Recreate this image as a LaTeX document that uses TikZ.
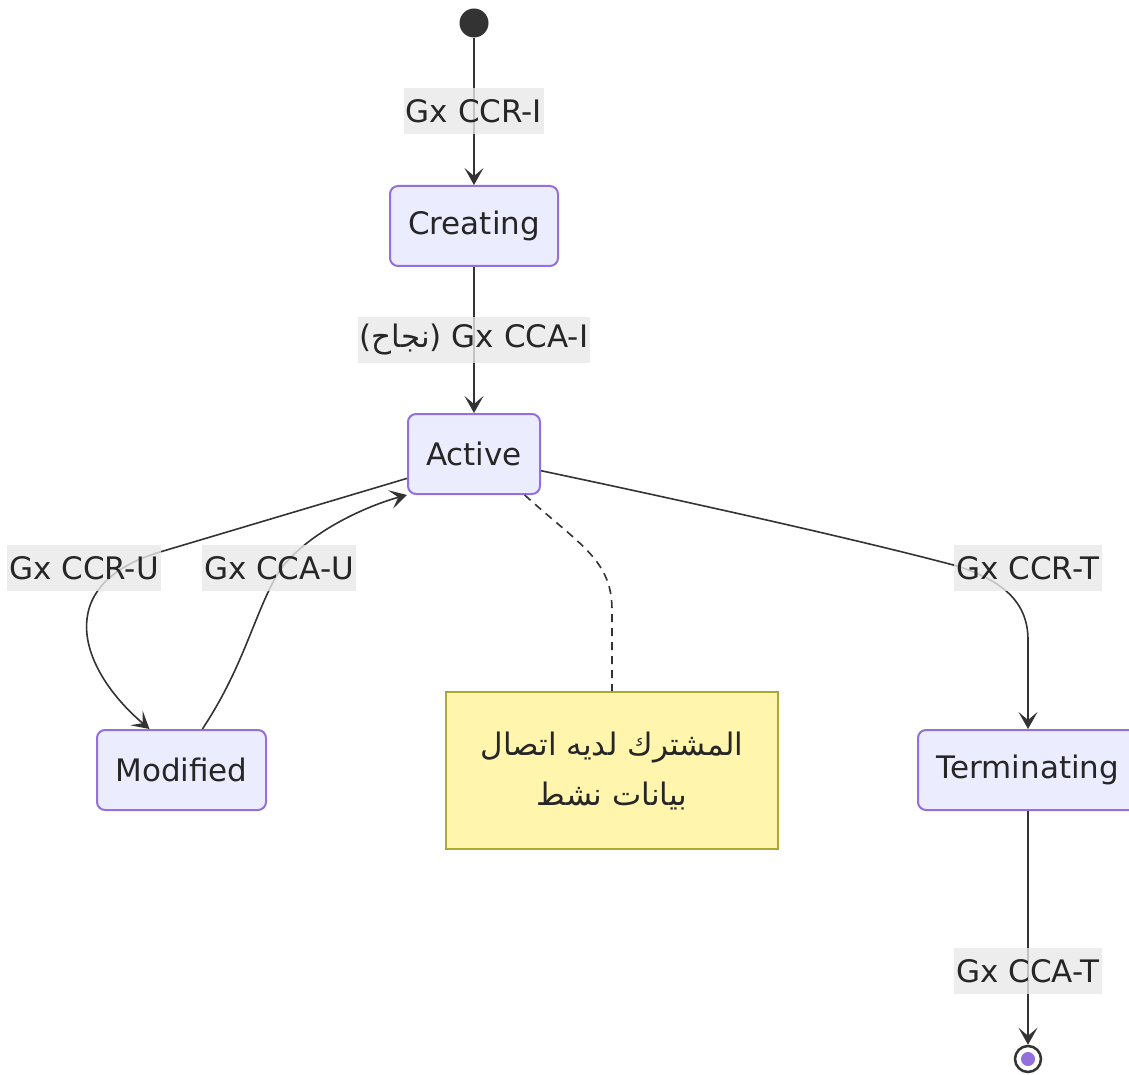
\documentclass[tikz,border=0pt]{standalone}
\usepackage{fontspec}
\setmainfont{DejaVu Sans}
\newfontfamily\arabicfont[Script=Arabic]{DejaVu Sans}
\TeXXeTstate=1
\usetikzlibrary{arrows.meta,positioning}
\definecolor{statefill}{HTML}{ECECFF}
\definecolor{statedraw}{HTML}{9370DB}
\definecolor{linegray}{HTML}{333333}
\definecolor{labelbg}{HTML}{E8E8E8}
\definecolor{notefill}{HTML}{FFF5AD}
\definecolor{notedraw}{HTML}{AAAA33}

\begin{document}
\begin{tikzpicture}[x=1pt, y=-1pt,
  every node/.style={font=\fontsize{31pt}{50pt}\selectfont, text=black!85},
  state/.style={draw=statedraw, fill=statefill, line width=2pt, rounded corners=8pt, minimum height=80pt, inner sep=0pt},
  startstate/.style={circle, fill=linegray, minimum size=29pt, inner sep=0pt},
  endstate/.style={circle, draw=linegray, line width=2.5pt, fill=white, minimum size=26pt, inner sep=0pt,
    path picture={\fill[statedraw] (path picture bounding box.center) circle (7pt);}},
  note/.style={draw=notedraw, fill=notefill, line width=2pt, minimum width=332pt, minimum height=157pt, align=center},
  lbl/.style={fill=labelbg, fill opacity=0.8, text opacity=1, inner xsep=2pt, inner ysep=0pt, minimum height=46pt},
  edge/.style={draw=linegray, line width=1.6pt, -{Stealth[length=17pt, width=19pt, inset=8pt]}}]
  \useasboundingbox (0,0) rectangle (1129,1075);

  \node[startstate] (start) at (474,23) {};
  \node[state, minimum width=168pt] (creating) at (474,226) {Creating};
  \node[state, minimum width=132pt] (active) at (474,454) {Active};
  \node[state, minimum width=169pt] (modified) at (181.5,770) {Modified};
  \node[state, minimum width=220pt] (terminating) at (1028,770) {Terminating};
  \node[note] (note) at (612,770.5) {{\arabicfont\beginR المشترك لديه اتصال\endR}\\{\arabicfont\beginR بيانات نشط\endR}};
  \node[endstate] (end) at (1028,1059) {};

  \draw[edge] (start) -- node[lbl]{Gx CCR-I} (creating);
  \draw[edge] (creating) -- node[lbl]{({\arabicfont\beginR نجاح\endR}) Gx CCA-I} (active);
  \draw[edge] (active.200) -- (160,552) .. controls (50,585) and (80,670) .. (modified.128)
    node[lbl] at (84,568) {Gx CCR-U};
  \draw[edge] (modified.63) .. controls (245,665) and (255,610) .. (280,570)
    .. controls (310,530) and (370,505) .. (active.south west)
    node[lbl] at (279,568) {Gx CCA-U};
  \draw[edge] (active.-14) .. controls (680,500) and (860,540) .. (957,566)
    .. controls (1000,580) and (1028,600) .. (1028,640) -- (terminating.north)
    node[lbl] at (1028,568) {Gx CCR-T};
  \draw[linegray, line width=1.6pt, dash pattern=on 8pt off 6pt] (active.-39) .. controls (580,545) and (612,560) .. (612,610) -- (note.north);
  \draw[edge] (terminating) -- node[lbl, pos=0.685]{Gx CCA-T} (end);
\end{tikzpicture}
\end{document}
